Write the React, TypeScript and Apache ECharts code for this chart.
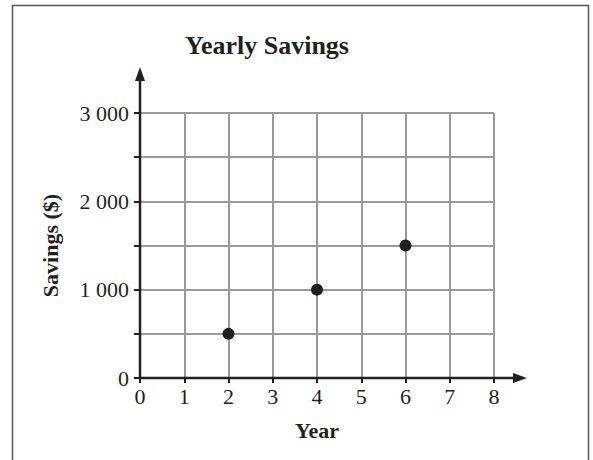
import React, { useEffect, useRef } from "react";
import * as echarts from "echarts";

const years = [2, 4, 6];
const savings = [500, 1000, 1500];
const xMin = 0;
const xMax = 8;
const yMin = 0;
const yMax = 3000;
const titleText = "Yearly Savings";
const xName = "Year";
const yName = "Savings ($)";

const FONT = "'Liberation Serif', 'Times New Roman', serif";
const INK = "#231f20";
const GRID = "#999999";

export default function App() {
  const ref = useRef<HTMLDivElement>(null);
  useEffect(() => {
    if (!ref.current) return;
    const chart = echarts.init(ref.current, null, { renderer: "svg" });
    const points = years.map((y, i) => [y, savings[i]]);
    chart.setOption({
      animation: false,
      backgroundColor: "#ffffff",
      title: {
        text: titleText,
        left: 262,
        top: 27,
        textAlign: "center",
        textStyle: { fontFamily: FONT, fontWeight: "bold", fontSize: 26, color: INK },
      },
      grid: { left: 140, top: 113, width: 354, height: 265, containLabel: false },
      xAxis: {
        type: "value",
        min: xMin,
        max: xMax,
        interval: 1,
        name: xName,
        nameLocation: "middle",
        nameGap: 41,
        nameTextStyle: { fontFamily: FONT, fontWeight: "bold", fontSize: 22, color: INK },
        axisLine: { show: false },
        axisTick: { show: true, length: 5, lineStyle: { color: INK, width: 2 } },
        axisLabel: { fontFamily: FONT, fontSize: 22, color: INK, margin: 7 },
        splitLine: { show: true, lineStyle: { color: GRID, width: 2 } },
      },
      yAxis: {
        type: "value",
        min: yMin,
        max: yMax,
        interval: 500,
        name: yName,
        nameLocation: "middle",
        nameGap: 79,
        nameTextStyle: { fontFamily: FONT, fontWeight: "bold", fontSize: 22, color: INK },
        axisLine: { show: false },
        axisTick: { show: true, length: 6, lineStyle: { color: INK, width: 2 } },
        axisLabel: {
          fontFamily: FONT,
          fontSize: 22,
          color: INK,
          margin: 11,
          formatter: (v: number) => {
            if (v % 1000 !== 0) return "";
            if (v === 0) return "0";
            const s = String(v);
            return s.slice(0, s.length - 3) + " " + s.slice(s.length - 3);
          },
        },
        splitLine: { show: true, lineStyle: { color: GRID, width: 2 } },
      },
      series: [
        {
          type: "scatter",
          data: points,
          symbol: "circle",
          symbolSize: 12,
          itemStyle: { color: INK, opacity: 1 },
          z: 10,
        },
      ],
    });
    const o = chart.convertToPixel({ gridIndex: 0 }, [xMin, yMin]) as number[];
    const xe = chart.convertToPixel({ gridIndex: 0 }, [xMax, yMin]) as number[];
    const ye = chart.convertToPixel({ gridIndex: 0 }, [xMin, yMax]) as number[];
    const ax = o[0];
    const ay = o[1];
    const xEnd = xe[0] + 33;
    const yEnd = ye[1] - 46;
    chart.setOption({
      graphic: [
        {
          type: "rect",
          shape: { x: 12.5, y: 5.5, width: 576, height: 600 },
          style: { fill: "none", stroke: "#555555", lineWidth: 1.5 },
          silent: true,
        },
        {
          type: "line",
          shape: { x1: ax, y1: ay, x2: xEnd - 8, y2: ay },
          style: { stroke: INK, lineWidth: 2.5 },
          z: 5,
        },
        {
          type: "polygon",
          shape: { points: [[xEnd, ay], [xEnd - 14, ay - 5], [xEnd - 14, ay + 5]] },
          style: { fill: INK },
          z: 5,
        },
        {
          type: "line",
          shape: { x1: ax, y1: ay, x2: ax, y2: yEnd + 8 },
          style: { stroke: INK, lineWidth: 2.5 },
          z: 5,
        },
        {
          type: "polygon",
          shape: { points: [[ax, yEnd], [ax - 5, yEnd + 14], [ax + 5, yEnd + 14]] },
          style: { fill: INK },
          z: 5,
        },
      ],
    });
    return () => chart.dispose();
  }, []);
  return (
    <div
      ref={ref}
      style={{ position: "fixed", left: 0, top: 0, width: 593, height: 460, background: "#fff" }}
    />
  );
}
